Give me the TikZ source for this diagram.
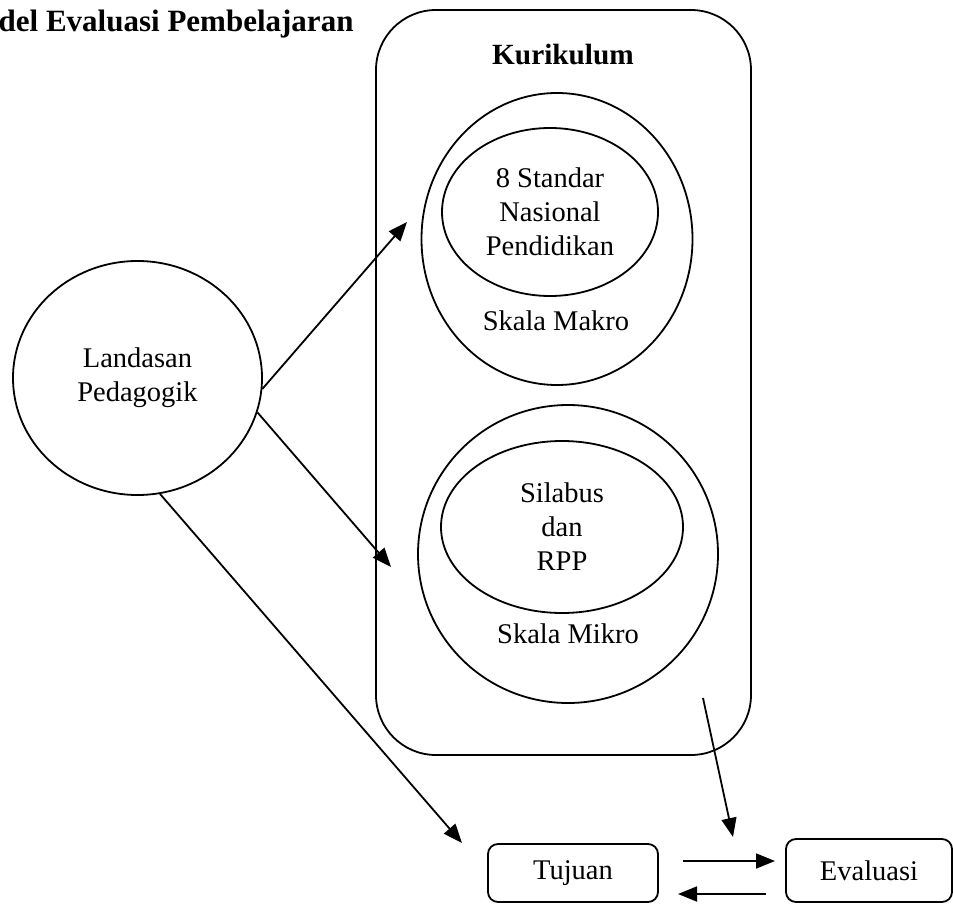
\documentclass[tikz,border=0pt]{standalone}
\usepackage{fontspec}
\setmainfont{Liberation Serif}
\usetikzlibrary{shapes.geometric,arrows.meta}

\begin{document}
\begin{tikzpicture}[x=1pt,y=-1pt,
	txt/.style={font=\fontsize{28.5}{34}\selectfont,align=center},
	oval/.style={draw,ellipse,line width=1.8pt,inner sep=0pt,txt},
	kotak/.style={draw,rounded corners=10pt,line width=1.8pt,inner sep=0pt,txt},
	panah/.style={-{Triangle[length=19pt,width=15pt]},line width=1.8pt}]
	\useasboundingbox (0,0) rectangle (953,904);
	
	\node[txt,font=\bfseries\fontsize{31}{34}\selectfont,anchor=base east] (judul) at (357,32) {del Evaluasi Pembelajaran};
	
	\node[draw,line width=1.8pt,rounded corners=60pt,minimum width=375pt,minimum height=745pt] (kurikulum) at (563.5,382.5) {};
	\node[txt,font=\bfseries\fontsize{29.3}{34}\selectfont,anchor=base] (judulkur) at (563,65) {Kurikulum};
	
	\node[oval,minimum width=271pt,minimum height=292pt] (makro) at (557,239) {};
	\node[oval,minimum width=216pt,minimum height=168pt] (standar) at (550,212) {8 Standar\\Nasional\\Pendidikan};
	\node[txt,anchor=base] (lblmakro) at (556,330) {Skala Makro};
	
	\node[oval,minimum width=300pt,minimum height=298pt] (mikro) at (568,554) {};
	\node[oval,minimum width=242pt,minimum height=172pt] (silabus) at (562,527) {Silabus\\dan\\RPP};
	\node[txt,anchor=base] (lblmikro) at (568,643) {Skala Mikro};
	
	\node[oval,minimum width=249pt,minimum height=234pt] (landasan) at (137.5,378) {Landasan\\Pedagogik};
	
	\node[kotak,minimum width=170pt,minimum height=58pt] (tujuan) at (573,873) {Tujuan};
	\node[kotak,minimum width=166pt,minimum height=63pt] (evaluasi) at (869,870.5) {Evaluasi};
	
	\coordinate (u1) at (407,222);
	\coordinate (u2) at (391,567);
	\coordinate (u3) at (462,843);
	\coordinate (k1) at (703,698);
	\coordinate (k2) at (733,837);
	\coordinate (t1) at (683,861);
	\coordinate (e1) at (775,861);
	\coordinate (e2) at (766,894);
	\coordinate (t2) at (678,894);
	
	\draw[panah] (landasan.-5) -- (u1);
	\draw[panah] (landasan.-16) -- (u2);
	\draw[panah] (landasan.-79) -- (u3);
	\draw[panah] (k1) -- (k2);
	\draw[panah] (t1) -- (e1);
	\draw[panah] (e2) -- (t2);
\end{tikzpicture}
\end{document}
